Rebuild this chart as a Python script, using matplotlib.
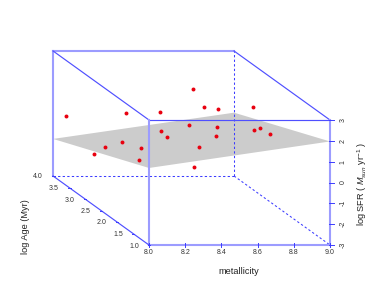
#!/usr/bin/env python3

import numpy as np
import matplotlib
matplotlib.use('Agg')
import matplotlib.pyplot as plt

plt.rcParams['font.family'] = ['Liberation Sans', 'DejaVu Sans']
plt.rcParams['mathtext.fontset'] = 'custom'
plt.rcParams['mathtext.rm'] = 'Liberation Sans'
plt.rcParams['mathtext.it'] = 'Liberation Sans:italic'

metallicity = [8.017, 8.138, 8.326, 8.488, 8.330, 8.363, 8.116, 8.020, 8.223, 8.014, 8.212,
               8.510, 8.571, 8.648, 8.840, 8.641, 8.635, 8.845, 8.877, 8.932, 8.541, 8.514]
log_age = [3.7, 2.5, 2.5, 2.5, 2.5, 2.5, 2.5, 2.5, 2.5, 2.8, 2.5,
           2.5, 2.5, 2.5, 2.5, 2.5, 2.5, 2.5, 2.5, 2.5, 2.5, 2.5]
log_sfr = [0.226, 1.666, 1.743, 1.090, 0.831, 0.529, 0.288, 0.063, 0.015, -0.604, -0.590,
           2.847, 1.983, 1.887, 1.954, 1.023, 0.562, 0.879, 0.946, 0.673, 0.048, -0.926]

plane_met = [8.0, 9.0, 9.0, 8.0]
plane_age = [1.0, 1.0, 4.0, 4.0]
plane_sfr = [0.697, 1.97, 0.04, -1.22]

met_ticks = [8.0, 8.2, 8.4, 8.6, 8.8, 9.0]
age_ticks = [1.0, 1.5, 2.0, 2.5, 3.0, 3.5, 4.0]
sfr_ticks = [-3, -2, -1, 0, 1, 2, 3]

W, H = 374, 307
fig = plt.figure(figsize=(W / 100, H / 100), dpi=100)
ax = fig.add_axes([149 / W, (H - 245) / H, 181 / W, 125 / H])
ax.set_xlim(8, 9)
ax.set_ylim(-3, 3)
ax.axis('off')


# oblique projection like scatterplot3d, age goes back and up
def proj(m, a, s):
    t = (np.asarray(a, dtype=float) - 1.0) / 3.0
    return np.asarray(m, dtype=float) - 0.530 * t, np.asarray(s, dtype=float) + 3.312 * t


def edge(p, q, **kw):
    x, y = proj([p[0], q[0]], [p[1], q[1]], [p[2], q[2]])
    ax.plot(x, y, clip_on=False, solid_capstyle='projecting', **kw)


px, py = proj(plane_met, plane_age, plane_sfr)
ax.fill(px, py, color='#cccccc', lw=0, clip_on=False, zorder=1)

thin = dict(color='#4f4fff', lw=0.85, zorder=3)
thick = dict(color='#9c9cff', lw=1.5, zorder=3)
dash = dict(color='#3c3cff', lw=0.75, ls=(0, (2.2, 2.2)), zorder=2)

# hidden edges
edge((8, 4, -3), (9, 4, -3), **dash)
edge((9, 4, -3), (9, 4, 3), **dash)
edge((9, 4, -3), (9, 1, -3), **dash)

# visible edges
edge((8, 4, 3), (9, 4, 3), **thick)
edge((8, 4, -3), (8, 4, 3), **thick)
edge((8, 4, 3), (8, 1, 3), **thin)
edge((9, 4, 3), (9, 1, 3), **thin)
edge((8, 1, 3), (9, 1, 3), **thin)
edge((8, 1, -3), (8, 1, 3), **thick)
edge((9, 1, -3), (9, 1, 3), **thick)
edge((8, 1, -3), (9, 1, -3), **thick)
edge((8, 4, -3), (8, 1, -3), **thin)

x, y = proj(metallicity, log_age, log_sfr)
ax.scatter(x, y, s=8, color='#e8000f', lw=0, clip_on=False, zorder=4)

tick_col = '#333333'
for m in met_ticks:
    ax.plot([m, m], [-3.1, -2.9], color='#3c3cff', lw=0.7, clip_on=False, zorder=4)
    ax.annotate('%.1f' % m, (m, -3), xytext=(0, -8), textcoords='offset pixels', fontsize=5,
                color=tick_col, ha='center', va='center', annotation_clip=False)
for a in age_ticks:
    tx, ty = proj(8, a, -3)
    ax.plot([tx - 0.008, tx + 0.008], [ty, ty], color='#3c3cff', lw=0.7, clip_on=False, zorder=4)
    ax.annotate('%.1f' % a, (tx, ty), xytext=(-15, -1), textcoords='offset pixels', fontsize=5,
                color=tick_col, ha='center', va='center', annotation_clip=False)
for s in sfr_ticks:
    ax.plot([8.995, 9.02], [s, s], color='#3c3cff', lw=0.7, clip_on=False, zorder=4)
    ax.annotate(str(s), (9, s), xytext=(13, 0), textcoords='offset pixels', fontsize=5,
                color=tick_col, ha='center', va='center', rotation=90, annotation_clip=False)

fig.text(239 / W, 1 - 272 / H, 'metallicity', fontsize=6.6, color='#222222', ha='center', va='center')
fig.text(26 / W, 1 - 227 / H, 'log Age (Myr)', fontsize=6.6, color='#222222', ha='center', va='center',
         rotation=90)
fig.text(362 / W, 1 - 184 / H, r'log SFR ( $\mathit{M}_{sun}\ \mathrm{yr}^{-1}$ )', fontsize=6.6,
         color='#222222', ha='center', va='center', rotation=90)

fig.savefig('out.png', dpi=100)
